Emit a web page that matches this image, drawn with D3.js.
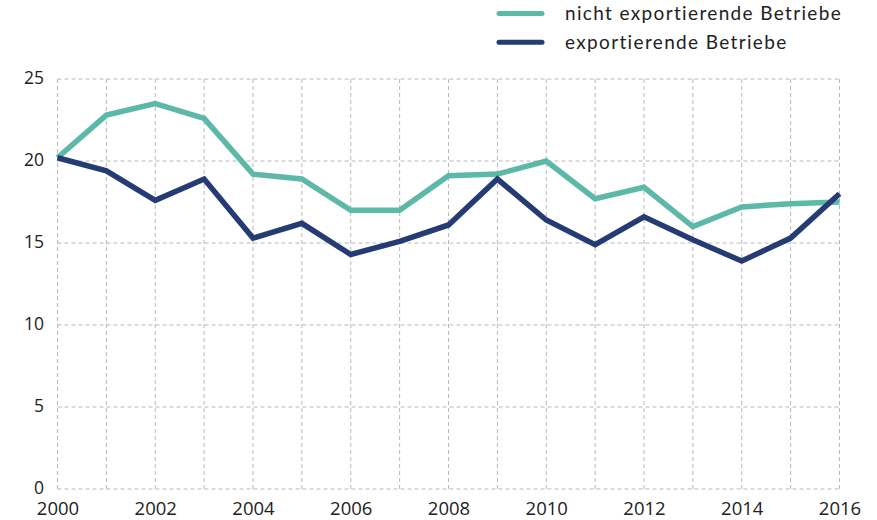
<!DOCTYPE html>
<html><head><meta charset="utf-8">
<script src="https://cdn.jsdelivr.net/npm/d3@7"></script>
<style>html,body{margin:0;padding:0;background:#fff;}svg{display:block;}</style>
</head><body>
<svg id="chart" width="877" height="520"></svg>
<script>
const years = [2000,2001,2002,2003,2004,2005,2006,2007,2008,2009,2010,2011,2012,2013,2014,2015,2016];
const nichtExport = [20.2,22.8,23.5,22.6,19.2,18.9,17.0,17.0,19.1,19.2,20.0,17.7,18.4,16.0,17.2,17.4,17.5];
const exportierend = [20.2,19.4,17.6,18.9,15.3,16.2,14.3,15.1,16.1,18.9,16.4,14.9,16.6,15.2,13.9,15.3,18.0];
const yTicks = [0,5,10,15,20,25];
const xTickLabels = [2000,2002,2004,2006,2008,2010,2012,2014,2016];
const seriesNames = ["nicht exportierende Betriebe","exportierende Betriebe"];
const colors = ["#5cb8a7","#243b74"];

const svg = d3.select("#chart");
const x = d3.scaleLinear().domain([2000,2016]).range([57.5,839.5]);
const y = d3.scaleLinear().domain([0,25]).range([489,79]);

const grid = svg.append("g");
grid.selectAll("line.h").data(yTicks).join("line")
  .attr("x1",x(2000)).attr("x2",x(2016))
  .attr("y1",d=>y(d)).attr("y2",d=>y(d))
  .attr("stroke","#b8b8b8").attr("stroke-width",1).attr("stroke-dasharray","4,3");
grid.selectAll("line.v").data(years).join("line")
  .attr("x1",d=>x(d)).attr("x2",d=>x(d))
  .attr("y1",y(0)).attr("y2",y(25))
  .attr("stroke","#b8b8b8").attr("stroke-width",1).attr("stroke-dasharray","4,3");

const yAxis = d3.axisLeft(y).tickValues(yTicks).tickSize(0).tickPadding(0);
svg.append("g").attr("transform","translate(44,0)").call(yAxis)
  .call(g=>g.select(".domain").remove())
  .call(g=>g.selectAll("text").attr("font-family","Open Sans").attr("font-size",17.5).attr("fill","#222").attr("dy","4.5"));

const xAxis = d3.axisBottom(x).tickValues(xTickLabels).tickFormat(d3.format("d")).tickSize(0).tickPadding(0);
svg.append("g").attr("transform","translate(0,515)").call(xAxis)
  .call(g=>g.select(".domain").remove())
  .call(g=>g.selectAll("text").attr("font-family","Open Sans").attr("font-size",18.5).attr("fill","#222").attr("y",0).attr("dy","0"));

const line = d3.line().x((d,i)=>x(years[i])).y(d=>y(d));
[nichtExport, exportierend].forEach((s,i)=>{
  svg.append("path").datum(s).attr("d",line).attr("fill","none")
    .attr("stroke",colors[i]).attr("stroke-width",5.5).attr("stroke-linejoin","miter");
});

const legend = svg.append("g");
seriesNames.forEach((n,i)=>{
  const yy = 13.5 + i*28.75;
  legend.append("line").attr("x1",499).attr("x2",542).attr("y1",yy).attr("y2",yy)
    .attr("stroke",colors[i]).attr("stroke-width",5).attr("stroke-linecap","round");
  legend.append("text").attr("x",565).attr("y",yy+6.5).text(n)
    .attr("font-family","Lato").attr("font-size",19).attr("letter-spacing","1.35").attr("fill","#222");
});
</script>
</body></html>
